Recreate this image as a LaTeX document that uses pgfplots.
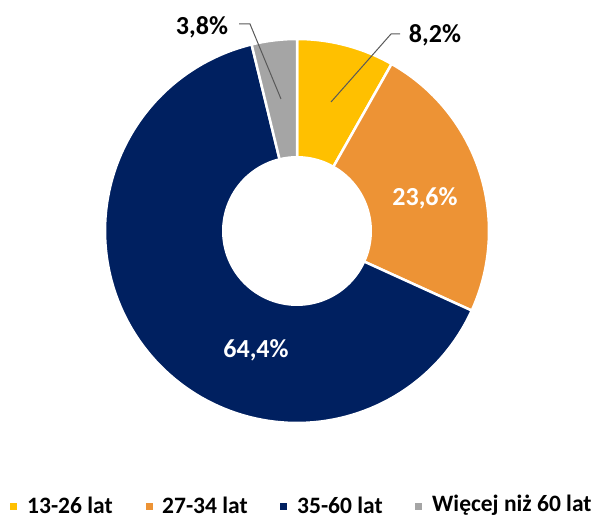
\documentclass[border=0pt]{standalone}
\usepackage{pgfplots}
\pgfplotsset{compat=1.18}
\usepackage{pgfplotstable}
\usepackage{fontspec}
\setmainfont{Carlito}
\definecolor{cy}{HTML}{FFC000}
\definecolor{co}{HTML}{ED9335}
\definecolor{cn}{HTML}{002060}
\definecolor{cg}{HTML}{A5A5A5}
\definecolor{lead}{HTML}{595959}
% shares in percent: 13-26, 27-34, 35-60, >60
\def\vA{8.2}
\def\vB{23.6}
\def\vC{64.4}
\def\vD{3.8}
\begin{document}
\begin{tikzpicture}
\begin{axis}[width=597pt,height=518pt,scale only axis,
  xmin=0,xmax=597,ymin=0,ymax=518,hide axis,clip=false]
\path (axis cs:0,0) rectangle (axis cs:597,518);
\pgfmathsetmacro{\aA}{90}
\pgfmathsetmacro{\aB}{\aA-3.6*\vA}
\pgfmathsetmacro{\aC}{\aB-3.6*\vB}
\pgfmathsetmacro{\aD}{\aC-3.6*\vC}
\pgfmathsetmacro{\aE}{\aD-3.6*\vD}
\addplot[fill=cy,draw=white,line width=2.5pt,domain=\aB:\aA,samples=40] ({297+192*cos(x)},{287+192*sin(x)}) -- (axis cs:297,287) -- cycle;
\addplot[fill=co,draw=white,line width=2.5pt,domain=\aC:\aB,samples=60] ({297+192*cos(x)},{287+192*sin(x)}) -- (axis cs:297,287) -- cycle;
\addplot[fill=cn,draw=white,line width=2.5pt,domain=\aD:\aC,samples=120] ({297+192*cos(x)},{287+192*sin(x)}) -- (axis cs:297,287) -- cycle;
\addplot[fill=cg,draw=white,line width=2.5pt,domain=\aE:\aD,samples=20] ({297+192*cos(x)},{287+192*sin(x)}) -- (axis cs:297,287) -- cycle;
\addplot[fill=white,draw=none,domain=0:360,samples=120] ({297+75*cos(x)},{287+75*sin(x)}) -- cycle;
% leader lines
\draw[lead,line width=1pt] (axis cs:331,416) -- (axis cs:391,484) -- (axis cs:400,484);
\draw[lead,line width=1pt] (axis cs:281,419) -- (axis cs:250,494) -- (axis cs:239,494);
% labels
\node[font=\fontsize{26}{30}\selectfont\bfseries,text=black] at (axis cs:435,483) {8,2\%};
\node[font=\fontsize{26}{30}\selectfont\bfseries,text=black] at (axis cs:202,491) {3,8\%};
\node[font=\fontsize{26}{30}\selectfont\bfseries,text=white] at (axis cs:425,320) {23,6\%};
\node[font=\fontsize{26}{30}\selectfont\bfseries,text=white] at (axis cs:256,168) {64,4\%};
% legend
\fill[cy] (axis cs:10,8) rectangle (axis cs:16.5,15);
\node[anchor=west,inner sep=0pt,font=\fontsize{23.5}{28}\selectfont\bfseries] at (axis cs:27,13) {13-26 lat};
\fill[co] (axis cs:146,8) rectangle (axis cs:152.5,15);
\node[anchor=west,inner sep=0pt,font=\fontsize{23.5}{28}\selectfont\bfseries] at (axis cs:162,13) {27-34 lat};
\fill[cn] (axis cs:280,8) rectangle (axis cs:286.5,15);
\node[anchor=west,inner sep=0pt,font=\fontsize{23.5}{28}\selectfont\bfseries] at (axis cs:297,13) {35-60 lat};
\fill[cg] (axis cs:415,8) rectangle (axis cs:421.5,15);
\node[anchor=west,inner sep=0pt,font=\fontsize{23.5}{28}\selectfont\bfseries] at (axis cs:432,13) {Więcej niż 60 lat};
\end{axis}
\end{tikzpicture}
\end{document}
